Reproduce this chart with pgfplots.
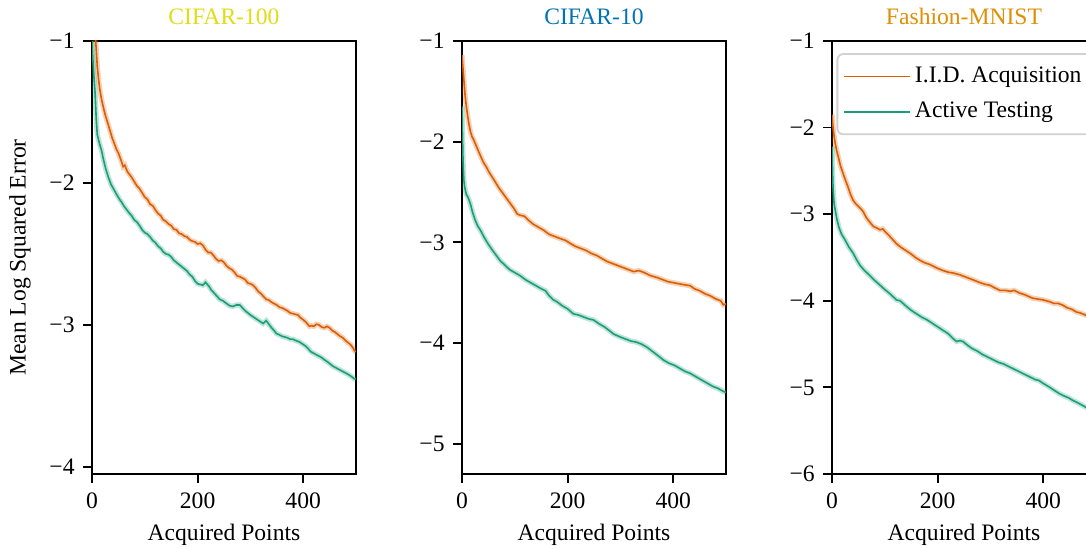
\documentclass[border=0pt]{standalone}
\usepackage{fontspec}
\setmainfont{Liberation Serif}
\usepackage{pgfplots}
\pgfplotsset{compat=1.18}
\usepackage{pgfplotstable}

\definecolor{iidc}{HTML}{D95F02}
\definecolor{actc}{HTML}{1B9E77}
\definecolor{tA}{HTML}{E0DC16}
\definecolor{tB}{HTML}{0173B2}
\definecolor{tC}{HTML}{DE8F05}

% CIFAR-100
\pgfplotstableread{
x y
0 -0.75
3 -0.88
7 -1.0
10 -1.18
13 -1.29
15 -1.345
18 -1.41
21 -1.46
25 -1.52
30 -1.58
34 -1.63
38 -1.68
42 -1.72
46 -1.76
50 -1.79
55 -1.84
59 -1.885
62 -1.875
67 -1.92
71 -1.94
75 -1.96
80 -1.99
85 -2.02
90 -2.04
95 -2.07
100 -2.10
105 -2.115
110 -2.15
115 -2.16
120 -2.19
125 -2.215
130 -2.23
135 -2.26
140 -2.27
145 -2.29
150 -2.30
155 -2.325
160 -2.33
165 -2.355
170 -2.36
175 -2.375
180 -2.38
185 -2.40
190 -2.41
195 -2.415
200 -2.43
205 -2.425
210 -2.44
215 -2.47
220 -2.49
225 -2.49
230 -2.51
235 -2.535
240 -2.55
245 -2.545
250 -2.56
255 -2.585
260 -2.60
265 -2.61
270 -2.63
275 -2.655
280 -2.66
285 -2.67
290 -2.68
295 -2.705
300 -2.71
305 -2.72
310 -2.74
315 -2.765
320 -2.78
325 -2.80
330 -2.82
335 -2.825
340 -2.84
345 -2.85
350 -2.86
355 -2.875
360 -2.88
365 -2.89
370 -2.90
375 -2.915
380 -2.92
385 -2.925
390 -2.93
395 -2.95
399 -2.96
405 -2.98
412 -3.01
416 -3.005
420 -3.01
425 -2.995
430 -3.00
435 -3.015
440 -3.02
445 -3.01
450 -3.02
455 -3.04
460 -3.05
465 -3.065
470 -3.08
475 -3.09
480 -3.11
485 -3.125
490 -3.14
494 -3.16
497 -3.18
500 -3.19
}\tAi
\pgfplotstableread{
x y
0 -1.0
2 -1.15
4 -1.27
6 -1.38
8 -1.55
10 -1.66
14 -1.72
18 -1.77
22 -1.84
26 -1.90
31 -1.96
36 -2.01
42 -2.05
48 -2.09
53 -2.12
56 -2.135
60 -2.16
65 -2.185
70 -2.21
75 -2.23
80 -2.26
85 -2.275
90 -2.30
95 -2.33
100 -2.35
105 -2.36
110 -2.38
115 -2.405
120 -2.42
125 -2.445
130 -2.46
135 -2.485
140 -2.50
145 -2.505
150 -2.52
155 -2.545
160 -2.56
165 -2.575
170 -2.59
175 -2.605
180 -2.62
185 -2.645
190 -2.66
195 -2.69
200 -2.71
205 -2.715
210 -2.72
215 -2.70
222 -2.73
226 -2.755
230 -2.77
236 -2.795
242 -2.82
248 -2.83
255 -2.85
261 -2.865
267 -2.87
273 -2.86
280 -2.86
285 -2.88
290 -2.90
295 -2.915
300 -2.93
306 -2.945
312 -2.96
318 -2.975
324 -2.99
330 -2.97
335 -2.995
340 -3.02
345 -3.04
349 -3.06
355 -3.07
360 -3.08
365 -3.085
370 -3.09
375 -3.10
380 -3.10
386 -3.11
393 -3.12
399 -3.135
405 -3.15
410 -3.17
415 -3.19
420 -3.20
425 -3.21
430 -3.22
435 -3.23
440 -3.245
446 -3.26
451 -3.275
456 -3.29
461 -3.30
466 -3.31
471 -3.32
476 -3.33
481 -3.34
486 -3.35
492 -3.365
497 -3.38
500 -3.38
}\tAa

% CIFAR-10
\pgfplotstableread{
x y
0 -1.14
2 -1.28
4 -1.42
6 -1.55
8 -1.64
10 -1.72
13 -1.82
16 -1.90
19 -1.95
22 -1.98
26 -2.03
30 -2.08
35 -2.14
41 -2.21
46 -2.25
51 -2.30
57 -2.35
63 -2.40
70 -2.46
77 -2.51
84 -2.56
91 -2.61
98 -2.66
105 -2.72
110 -2.73
118 -2.74
126 -2.78
135 -2.82
145 -2.85
155 -2.88
165 -2.92
175 -2.94
185 -2.96
196 -2.98
205 -3.01
215 -3.04
225 -3.06
235 -3.08
245 -3.11
255 -3.13
265 -3.16
275 -3.19
285 -3.21
295 -3.23
305 -3.25
315 -3.27
325 -3.29
335 -3.28
345 -3.30
357 -3.33
370 -3.35
380 -3.37
390 -3.39
400 -3.40
410 -3.41
420 -3.42
432 -3.43
440 -3.46
450 -3.48
460 -3.51
470 -3.53
480 -3.56
490 -3.58
495 -3.62
500 -3.61
}\tBi
\pgfplotstableread{
x y
0 -1.65
1 -1.95
2 -2.2
3.5 -2.38
5 -2.45
8 -2.52
12 -2.56
16 -2.62
20 -2.70
25 -2.78
30 -2.84
35 -2.88
42 -2.95
50 -3.02
58 -3.08
65 -3.13
72 -3.18
80 -3.22
90 -3.27
100 -3.30
110 -3.33
120 -3.37
130 -3.40
140 -3.43
150 -3.46
158 -3.48
165 -3.53
173 -3.57
180 -3.59
190 -3.63
200 -3.66
211 -3.71
220 -3.72
230 -3.74
240 -3.76
249 -3.77
260 -3.81
270 -3.84
280 -3.88
287 -3.91
300 -3.94
310 -3.96
320 -3.98
330 -3.99
340 -4.01
350 -4.04
360 -4.08
370 -4.12
382 -4.17
392 -4.20
402 -4.22
412 -4.25
422 -4.28
432 -4.30
445 -4.34
455 -4.37
465 -4.40
475 -4.43
485 -4.45
495 -4.48
500 -4.49
}\tBa

% Fashion-MNIST
\pgfplotstableread{
x y
0 -1.85
2 -2.00
4 -2.10
6 -2.18
9 -2.27
12 -2.34
16 -2.44
21 -2.53
25 -2.60
30 -2.68
35 -2.77
40 -2.84
45 -2.88
50 -2.91
55 -2.94
59 -2.97
65 -3.04
70 -3.08
78 -3.14
85 -3.16
91 -3.18
96 -3.17
102 -3.21
110 -3.26
122 -3.34
130 -3.38
140 -3.42
150 -3.46
158 -3.50
166 -3.53
175 -3.56
185 -3.58
198 -3.62
210 -3.65
220 -3.67
230 -3.68
242 -3.70
255 -3.73
268 -3.76
280 -3.79
290 -3.81
299 -3.82
308 -3.85
318 -3.88
328 -3.88
338 -3.89
345 -3.88
355 -3.91
365 -3.93
380 -3.97
390 -3.98
400 -3.99
412 -4.01
420 -4.03
428 -4.03
437 -4.05
445 -4.08
455 -4.10
463 -4.13
470 -4.14
478 -4.16
490 -4.19
500 -4.22
}\tCi
\pgfplotstableread{
x y
0 -2.22
1 -2.5
2 -2.7
4 -2.88
6 -2.95
9 -3.05
13 -3.15
18 -3.23
25 -3.30
32 -3.38
40 -3.45
47 -3.53
53 -3.59
60 -3.64
70 -3.70
80 -3.76
91 -3.82
100 -3.87
110 -3.92
122 -3.99
129 -4.00
140 -4.06
150 -4.11
160 -4.15
170 -4.19
180 -4.22
190 -4.26
200 -4.30
210 -4.34
220 -4.38
230 -4.44
236 -4.47
242 -4.46
248 -4.47
256 -4.51
265 -4.55
275 -4.58
285 -4.62
295 -4.65
305 -4.68
315 -4.71
325 -4.73
335 -4.76
345 -4.79
355 -4.82
365 -4.85
375 -4.88
385 -4.91
392 -4.92
399 -4.95
410 -4.99
420 -5.03
430 -5.07
440 -5.10
448 -5.12
456 -5.15
466 -5.18
478 -5.22
490 -5.26
500 -5.29
}\tCa

\pgfplotsset{
  base/.style={
    scale only axis, width=132pt, height=216.5pt,
    xmin=0, xmax=500, ymax=-1,
    xtick={0,200,400}, xticklabels={0,200,400},
    tick pos=left, tick align=outside,
    major tick length=4.5pt,
    every tick/.style={black, line width=0.9pt},
    axis line style={line width=0.9pt},
    xticklabel style={anchor=base, inner sep=0pt, yshift=-13pt},
    yticklabel style={anchor=east, inner sep=0pt, xshift=-4pt},
    xlabel={Acquired Points},
    xlabel style={at={(axis description cs:0.5,0)}, anchor=base, yshift=-33.25pt, inner sep=0pt},
    title style={at={(axis description cs:0.5,1)}, anchor=base, yshift=2pt, inner sep=0pt},
    legend image code/.code={\draw[#1, line width=0.8pt] (0pt,0pt) -- (24.5pt,0pt); \path (0pt,0pt) -- (33pt,0pt);},
  },
  band/.style={line width=2.6pt, opacity=0.28, forget plot},
  mainl/.style={line width=0.8pt},
}

\begin{document}
\fontsize{11.8pt}{14pt}\selectfont
\begin{tikzpicture}
\useasboundingbox (0,0) rectangle (543pt,274.5pt);
\clip (0,0) rectangle (543pt,274.5pt);

\begin{axis}[base, at={(46pt,37.5pt)}, anchor=south west,
  ymin=-4.05, ytick={-1,-2,-3,-4}, yticklabels={−1,−2,−3,−4},
  title={\textcolor{tA}{CIFAR-100}},
  ylabel={Mean Log Squared Error},
  ylabel style={at={(axis description cs:-0.2727,0.5)}, anchor=center, inner sep=0pt}]
\addplot[band, iidc] table {\tAi};
\addplot[band, actc] table {\tAa};
\addplot[mainl, iidc] table {\tAi};
\addplot[mainl, actc] table {\tAa};
\end{axis}

\begin{axis}[base, at={(231pt,37.5pt)}, anchor=south west,
  ymin=-5.3, ytick={-1,-2,-3,-4,-5}, yticklabels={−1,−2,−3,−4,−5},
  title={\textcolor{tB}{CIFAR-10}}]
\addplot[band, iidc] table {\tBi};
\addplot[band, actc] table {\tBa};
\addplot[mainl, iidc] table {\tBi};
\addplot[mainl, actc] table {\tBa};
\end{axis}

\begin{axis}[base, at={(416pt,37.5pt)}, anchor=south west,
  ymin=-6, ytick={-1,-2,-3,-4,-5,-6}, yticklabels={−1,−2,−3,−4,−5,−6},
  title={\textcolor{tC}{Fashion-MNIST}},
  legend style={at={(axis description cs:0.017,0.972)}, anchor=north west,
    draw=black!18, line width=0.9pt, rounded corners=3pt,
    fill=white, fill opacity=0.8, text opacity=1,
    inner xsep=3pt, inner ysep=4.5pt, row sep=4pt,
    cells={anchor=west}}]
\addplot[band, iidc] table {\tCi};
\addplot[band, actc] table {\tCa};
\addplot[mainl, iidc] table {\tCi};
\addlegendentry{I.I.D. Acquisition}
\addplot[mainl, actc] table {\tCa};
\addlegendentry{Active Testing}
\end{axis}
\end{tikzpicture}
\end{document}
